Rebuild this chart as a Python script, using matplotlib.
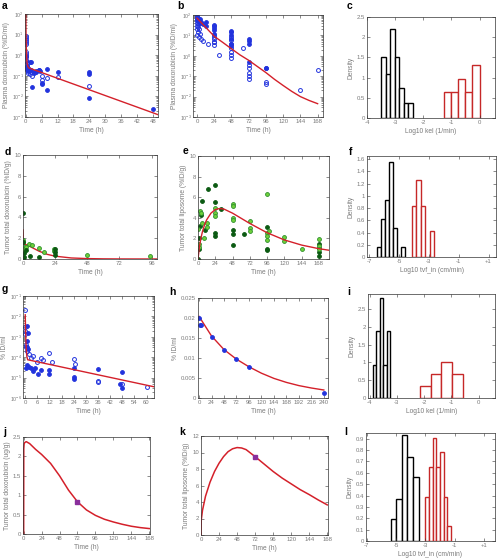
import matplotlib
matplotlib.use('Agg')
import matplotlib.pyplot as plt
from matplotlib.ticker import FuncFormatter, FixedLocator, LogLocator, NullFormatter

plt.rcParams['font.family'] = ['Liberation Sans', 'DejaVu Sans']

# ---- data ----
# a: plasma doxorubicin, free drug
a_fill_t = [0.2, 0.3, 0.5, 0.8, 1.0, 1.2, 1.5, 2.0, 2.0, 2.5, 3.0, 4.0, 5.0, 5.5, 6.0, 6.0, 8.0, 8.0, 12.0, 24.0, 24.0, 24.0, 48.0]
a_fill = [0.8, 0.3, 0.25, 0.2, 0.18, 0.22, 0.48, 0.48, 0.19, 0.03, 0.14, 0.16, 0.2, 0.17, 0.045, 0.04, 0.22, 0.02, 0.15, 0.15, 0.12, 0.008, 0.0025]
a_open_t = [0, 0, 0, 0, 0, 0, 0, 0.1, 0.2, 0.25, 0.3, 0.5, 0.5, 1, 1.5, 2, 2.5, 3, 4, 5, 6, 6, 8, 12, 24]
a_open = [9, 7, 5.5, 4.5, 3.5, 1.5, 1.1, 0.9, 0.6, 0.5, 0.4, 0.3, 0.2, 0.14, 0.12, 0.15, 0.1, 0.15, 0.18, 0.2, 0.1, 0.06, 0.075, 0.09, 0.033]
a_fit_t = [0, 0.05, 0.1, 0.2, 0.35, 0.5, 0.8, 1.2, 24, 50]
a_fit = [100, 30, 8, 2, 0.7, 0.4, 0.28, 0.24, 0.021, 0.0013]

# b: plasma doxorubicin, liposomal
b_fill_t = [0, 0, 0, 2, 2, 4, 4, 6, 8, 12, 12, 24, 24, 24, 24, 24, 48, 48, 48, 48, 48, 48, 72, 72, 72, 72, 96, 96]
b_fill = [85, 70, 55, 75, 50, 65, 40, 45, 35, 45, 30, 32, 28, 22, 18, 12, 17, 14, 10, 7, 4, 3, 6.5, 5.5, 4, 0.5, 0.26, 0.24]
b_open_t = [0, 0, 0, 0, 0, 0, 1, 1, 2, 2, 3, 3, 4, 6, 8, 15, 24, 24, 24, 24, 24, 24, 31, 48, 48, 48, 48, 48, 48, 48, 64, 72, 72, 72, 72, 72, 96, 96, 144, 168]
b_open = [80, 60, 40, 30, 20, 10, 50, 35, 25, 15, 20, 8, 12, 7, 5.5, 4, 10, 8, 6.5, 5, 4.5, 3.5, 1.1, 8, 6, 4, 2.5, 1.5, 1.1, 0.8, 2.3, 0.35, 0.25, 0.15, 0.1, 0.07, 0.05, 0.04, 0.02, 0.2]
b_fit_t = [0, 12, 24, 36, 48, 60, 72, 84, 96, 108, 120, 132, 144, 156, 168]
b_fit = [70, 25, 9, 4.5, 2.2, 1.1, 0.6, 0.3, 0.15, 0.07, 0.035, 0.018, 0.01, 0.0065, 0.0045]

# c: log10 kel histograms
c_black_edges = [-3.5, -3.34, -3.18, -3.02, -2.86, -2.70, -2.54, -2.38]
c_black = [1.5, 1.1, 2.2, 1.5, 0.75, 0.37, 0.37]
c_red_edges = [-1.25, -1.0, -0.75, -0.5, -0.25, 0.0]
c_red = [0.65, 0.65, 0.97, 0.65, 1.3]

# d: tumor total doxorubicin
d_dark_t = [0, 0, 0, 0.7, 1, 2.5, 5, 12, 24, 24, 24]
d_dark = [4.4, 1.6, 0.1, 0.2, 0.6, 0.87, 0.32, 0.22, 1.0, 0.7, 0.38]
d_light_t = [0, 0, 0.5, 1, 2, 4.5, 7, 11.7, 15.7, 23, 23, 47.6, 95]
d_light = [1.8, 1.6, 1.2, 1.0, 1.2, 1.44, 1.35, 1.1, 0.7, 1.0, 0.77, 0.38, 0.29]
d_fit_t = [0, 0.2, 0.5, 1, 3, 6, 12, 18, 24, 36, 48, 60, 72, 100]
d_fit = [2.8, 1.9, 1.5, 1.42, 1.35, 1.15, 0.75, 0.45, 0.27, 0.1, 0.04, 0.015, 0.006, 0.0]

# e: tumor total liposome
e_dark_t = [0, 1, 2, 3, 4, 6, 10, 14, 24, 24, 24, 24, 32, 48, 48, 48, 64, 96, 96, 96, 168, 168, 168, 168]
e_dark = [0, 1.0, 2.0, 3.2, 4.3, 5.6, 2.8, 6.8, 7.2, 5.5, 2.5, 2.2, 4.9, 2.8, 2.4, 1.4, 2.4, 3.1, 1.0, 0.9, 1.5, 1.1, 0.7, 0.3]
e_light_t = [0, 1, 2, 3, 4, 6, 8, 12, 12, 24, 24, 24, 48, 48, 48, 48, 72, 72, 72, 96, 96, 96, 96, 98, 120, 120, 144, 168, 168, 168]
e_light = [2.9, 1.2, 1.5, 4.7, 4.5, 3.5, 2.0, 3.1, 3.5, 5.0, 4.5, 4.2, 5.3, 5.1, 4.0, 3.8, 3.7, 3.0, 2.7, 6.3, 2.5, 2.2, 1.8, 2.7, 2.1, 1.7, 1.0, 1.9, 1.3, 1.0]
e_fit_t = [0, 2, 4, 6, 9, 12, 18, 24, 30, 36, 48, 60, 72, 96, 120, 144, 168, 182]
e_fit = [0, 1.2, 2.0, 2.6, 3.3, 3.8, 4.45, 4.8, 4.9, 4.85, 4.45, 3.95, 3.45, 2.55, 1.85, 1.35, 1.0, 0.85]

# f: log10 tvf_in histograms
f_black_edges = [-6.5, -6.23, -5.96, -5.69, -5.42, -5.15, -4.88, -4.61]
f_black = [0.16, 0.62, 0.93, 1.55, 0.47, 0.0, 0.16]
f_red_edges = [-4.15, -3.85, -3.55, -3.25, -2.95, -2.65]
f_red = [0.84, 1.25, 0.84, 0.0, 0.42]

# g: plasma % ID/ml
g_open_t = [0, 0, 0, 0, 0.5, 0.5, 1, 2, 3, 4, 6, 8, 9, 12, 13, 24, 24.5, 36, 36, 48, 60]
g_open = [0.021, 3e-3, 2e-3, 1.3e-3, 4e-4, 3e-4, 2e-4, 1.5e-4, 9e-5, 1.1e-4, 6e-5, 9.5e-5, 7e-5, 1.6e-4, 5.9e-5, 8.5e-5, 4.8e-5, 7e-6, 6e-6, 5e-6, 3.4e-6]
g_fill_t = [1, 1.5, 1, 1, 1.5, 0.5, 1, 2, 3, 4, 5, 6.5, 8, 12, 12, 24, 24, 24, 36, 47.7, 47, 48]
g_fill = [3.5e-3, 1.5e-3, 6e-4, 3e-4, 2.5e-4, 3e-5, 4e-5, 3.5e-5, 3e-5, 2.2e-5, 3e-5, 1.5e-5, 2.4e-5, 2.3e-5, 1.5e-5, 3e-5, 1.1e-5, 9e-6, 2.5e-5, 1.9e-5, 4.6e-6, 3.2e-6]
g_fit_t = [0, 0.15, 0.3, 0.5, 0.8, 1.2, 64]
g_fit = [1.2e-2, 3e-3, 8e-4, 2.5e-4, 1.1e-4, 7.5e-5, 3.5e-6]

# h: plasma % ID/ml, liposome
h_t = [0, 2, 4, 24, 48, 72, 96, 240]
h_val = [0.0201, 0.0182, 0.0182, 0.0153, 0.0119, 0.0098, 0.0078, 0.0012]
h_fit_t = [0, 24, 48, 72, 96, 120, 144, 168, 192, 216, 240]
h_fit = [0.0204, 0.0155, 0.0121, 0.0097, 0.0078, 0.0062, 0.0049, 0.0039, 0.0031, 0.0025, 0.0020]

# i: log10 kel histograms
i_black_edges = [-3.88, -3.75, -3.62, -3.5, -3.37, -3.24]
i_black = [0.93, 1.87, 2.8, 0.93, 1.87]
i_red_edges = [-2.15, -1.76, -1.37, -0.98, -0.58]
i_red = [0.33, 0.67, 1.0, 0.67]

# j: tumor total doxorubicin prediction
j_fit_t = [0, 0.15, 0.6, 1.5, 3.5, 8, 16, 24, 36, 48, 60, 72, 84, 96, 108, 120, 132, 144, 156, 168]
j_fit = [0, 2.2, 2.32, 2.36, 2.38, 2.33, 2.18, 2.05, 1.82, 1.50, 1.13, 0.83, 0.62, 0.48, 0.38, 0.31, 0.25, 0.20, 0.165, 0.14]
j_obs_t = [72]
j_obs = [0.83]

# k: tumor total liposome prediction
k_fit_t = [0, 0.3, 2, 6, 12, 18, 24, 30, 36, 42, 48, 54, 60, 72, 84, 96, 108, 120, 132, 144, 156, 168]
k_fit = [0, 1.8, 3.0, 4.7, 6.4, 7.7, 8.7, 9.5, 10.1, 10.45, 10.6, 10.55, 10.35, 9.5, 8.6, 7.7, 6.9, 6.2, 5.5, 4.9, 4.25, 3.65]
k_obs_t = [72]
k_obs = [9.5]

# l: log10 tvf_in histograms
l_black_edges = [-5.36, -5.0, -4.61, -4.23, -3.82, -3.43]
l_black = [0.19, 0.37, 0.93, 0.74, 0.56]
l_red_edges = [-3.0, -2.75, -2.5, -2.25, -2.0, -1.75, -1.5, -1.25]
l_red = [0.39, 0.65, 0.91, 0.65, 0.78, 0.39, 0.13]

# ---- styles ----
BLUE = '#2233dd'
RED = '#d4202a'
HRED = '#c62828'
DKGREEN = '#0b5a12'
LTGREEN = '#6fd13a'
LTGREEN_EDGE = '#2f8f2f'
PURPLE = '#8a2f9c'
TXT = '#7a7a7a'

W, H = 499, 560
fig = plt.figure(figsize=(W / 100, H / 100), dpi=100)


def add_ax(l, t, r, b):
    ax = fig.add_axes([l / W, 1 - b / H, (r - l) / W, (b - t) / H])
    ax.tick_params(which='both', direction='in', top=True, right=True, length=2,
                   width=0.4, labelsize=4.3, labelcolor=TXT, pad=1.5, color='#333333')
    ax.tick_params(which='minor', length=1.1)
    for s in ax.spines.values():
        s.set_linewidth(0.5)
        s.set_color('#333333')
    return ax


def g_fmt(v, pos):
    return '%g' % v


def labels(ax, xl, yl, ypad=1.5):
    ax.set_xlabel(xl, fontsize=4.8, color=TXT, labelpad=2)
    ax.set_ylabel(yl, fontsize=4.8, color=TXT, labelpad=ypad)


def letter(x, y, s):
    fig.text(x / W, 1 - y / H, s, fontsize=7.5, fontweight='bold', va='center', ha='left')


def hist(ax, edges, heights, color):
    widths = [edges[n + 1] - edges[n] for n in range(len(heights))]
    ax.bar(edges[:-1], heights, width=widths, align='edge', facecolor='white',
           edgecolor=color, linewidth=1.0)


def open_pts(ax, t, v, color=BLUE):
    ax.plot(t, v, 'o', ms=2.8, mfc='none', mec=color, mew=0.7, ls='none')


def fill_pts(ax, t, v, color=BLUE, edge=None):
    ax.plot(t, v, 'o', ms=2.8, mfc=color, mec=edge or color, mew=0.6, ls='none')


def log_axis(ax, lo, hi):
    ax.set_yscale('log')
    ax.set_ylim(lo, hi)
    ax.yaxis.set_minor_locator(LogLocator(subs=range(2, 10), numticks=20))
    ax.yaxis.set_minor_formatter(NullFormatter())
    ax.tick_params(axis='y', labelsize=3.8, pad=1)


# a
ax = add_ax(25, 14, 158, 117)
fill_pts(ax, a_fill_t, a_fill)
open_pts(ax, a_open_t, a_open)
ax.plot(a_fit_t, a_fit, color=RED, lw=1.0)
log_axis(ax, 1e-3, 1e2)
ax.set_xlim(-0.3, 50)
ax.set_xticks(range(0, 49, 6))
labels(ax, 'Time (h)', 'Plasma doxorubicin (%ID/ml)', 0.8)
letter(2, 6, 'a')

# b
ax = add_ax(193, 15, 323, 117)
fill_pts(ax, b_fill_t, b_fill)
open_pts(ax, b_open_t, b_open)
ax.plot(b_fit_t, b_fit, color=RED, lw=1.0)
log_axis(ax, 1e-3, 1e2)
ax.set_xlim(-5.6, 175.5)
ax.set_xticks(range(0, 169, 24))
labels(ax, 'Time (h)', 'Plasma doxorubicin (%ID/ml)', 0.8)
letter(177, 6, 'b')

# c
ax = add_ax(367, 17, 495, 118)
hist(ax, c_black_edges, c_black, 'black')
hist(ax, c_red_edges, c_red, HRED)
ax.set_xlim(-4, 0.55)
ax.set_ylim(0, 2.5)
ax.set_xticks([-4, -3, -2, -1, 0])
ax.set_yticks([0, 0.5, 1, 1.5, 2, 2.5])
ax.xaxis.set_major_formatter(FuncFormatter(g_fmt))
ax.yaxis.set_major_formatter(FuncFormatter(g_fmt))
labels(ax, 'Log10 kel (1/min)', 'Density')
letter(347, 6, 'c')

# d
ax = add_ax(23, 155, 157, 259)
ax.plot(d_fit_t, d_fit, color=RED, lw=1.0)
fill_pts(ax, d_light_t, d_light, LTGREEN, LTGREEN_EDGE)
fill_pts(ax, d_dark_t, d_dark, DKGREEN)
ax.set_xlim(0, 100)
ax.set_ylim(0, 10)
ax.set_xticks(range(0, 97, 24))
ax.set_yticks(range(0, 11, 2))
labels(ax, 'Time (h)', 'Tumor total doxorubicin (%ID/g)')
letter(5, 152, 'd')

# e
ax = add_ax(198, 156, 329, 259)
fill_pts(ax, e_dark_t, e_dark, DKGREEN)
fill_pts(ax, e_light_t, e_light, LTGREEN, LTGREEN_EDGE)
ax.plot(e_fit_t, e_fit, color=RED, lw=1.0)
ax.set_xlim(0, 182)
ax.set_ylim(0, 10)
ax.set_xticks(range(0, 169, 24))
ax.set_yticks(range(0, 11, 2))
labels(ax, 'Time (h)', 'Tumor total liposome (%ID/g)')
letter(183, 151, 'e')

# f
ax = add_ax(367, 156, 496, 257)
hist(ax, f_black_edges, f_black, 'black')
hist(ax, f_red_edges, f_red, HRED)
ax.set_xlim(-7.15, 1.5)
ax.set_ylim(0, 1.65)
ax.xaxis.set_major_locator(FixedLocator([-7, -5, -3, -1, 1]))
ax.set_xticklabels(['-7', '-5', '-3', '-1', '+1'])
ax.set_yticks([0, 0.2, 0.4, 0.6, 0.8, 1.0, 1.2, 1.4, 1.6])
ax.yaxis.set_major_formatter(FuncFormatter(g_fmt))
labels(ax, 'Log10 tvf_in (cm/min)', 'Density')
letter(349, 152, 'f')

# g
ax = add_ax(23, 296, 154, 398)
open_pts(ax, g_open_t, g_open)
fill_pts(ax, g_fill_t, g_fill)
ax.plot(g_fit_t, g_fit, color=RED, lw=1.0)
log_axis(ax, 1e-6, 1e-1)
ax.set_xlim(-1.1, 63.7)
ax.set_xticks(range(0, 61, 6))
labels(ax, 'Time (h)', '% ID/ml', 0.8)
letter(2, 289, 'g')

# h
ax = add_ax(198, 298, 328, 398)
ax.plot(h_fit_t, h_fit, color=RED, lw=1.0)
fill_pts(ax, h_t, h_val)
ax.set_xlim(-2, 248)
ax.set_ylim(0, 0.025)
ax.set_xticks(range(0, 241, 24))
ax.set_yticks([0, 0.005, 0.01, 0.015, 0.02, 0.025])
ax.yaxis.set_major_formatter(FuncFormatter(g_fmt))
labels(ax, 'Time (h)', '% ID/ml')
letter(169, 292, 'h')

# i
ax = add_ax(368, 294, 495, 398)
hist(ax, i_black_edges, i_black, 'black')
hist(ax, i_red_edges, i_red, HRED)
ax.set_xlim(-4.06, 0.6)
ax.set_ylim(0, 2.92)
ax.set_xticks([-4, -3, -2, -1, 0])
ax.set_yticks([0, 0.5, 1, 1.5, 2, 2.5])
ax.xaxis.set_major_formatter(FuncFormatter(g_fmt))
ax.yaxis.set_major_formatter(FuncFormatter(g_fmt))
labels(ax, 'Log10 kel (1/min)', 'Density')
letter(347, 292, 'i')

# j
ax = add_ax(23, 437, 150, 534)
ax.plot(j_fit_t, j_fit, color=RED, lw=1.1)
ax.plot(j_obs_t, j_obs, 's', ms=2.6, color=PURPLE)
ax.set_xlim(-0.9, 169)
ax.set_ylim(0, 2.5)
ax.set_xticks(range(0, 169, 24))
ax.set_yticks([0, 0.5, 1, 1.5, 2, 2.5])
ax.yaxis.set_major_formatter(FuncFormatter(g_fmt))
labels(ax, 'Time (h)', 'Tumor total doxorubicin (ug/g)')
letter(3, 432, 'j')

# k
ax = add_ax(201, 436, 328, 535)
ax.plot(k_fit_t, k_fit, color=RED, lw=1.1)
ax.plot(k_obs_t, k_obs, 's', ms=2.6, color=PURPLE)
ax.set_xlim(0, 169)
ax.set_ylim(0, 12)
ax.set_xticks(range(0, 169, 24))
ax.set_yticks(range(0, 13, 2))
labels(ax, 'Time (h)', 'Tumor total liposome (%ID/g)')
letter(179, 432, 'k')

# l
ax = add_ax(366, 433, 495, 541)
hist(ax, l_black_edges, l_black, 'black')
hist(ax, l_red_edges, l_red, HRED)
ax.set_xlim(-7.05, 1.75)
ax.set_ylim(0, 0.95)
ax.xaxis.set_major_locator(FixedLocator([-7, -5, -3, -1, 1]))
ax.set_xticklabels(['-7', '-5', '-3', '-1', '+1'])
ax.set_yticks([0, 0.1, 0.2, 0.3, 0.4, 0.5, 0.6, 0.7, 0.8, 0.9])
ax.yaxis.set_major_formatter(FuncFormatter(g_fmt))
labels(ax, 'Log10 tvf_in (cm/min)', 'Density')
letter(344, 432, 'l')

fig.savefig('out.png', dpi=100)
